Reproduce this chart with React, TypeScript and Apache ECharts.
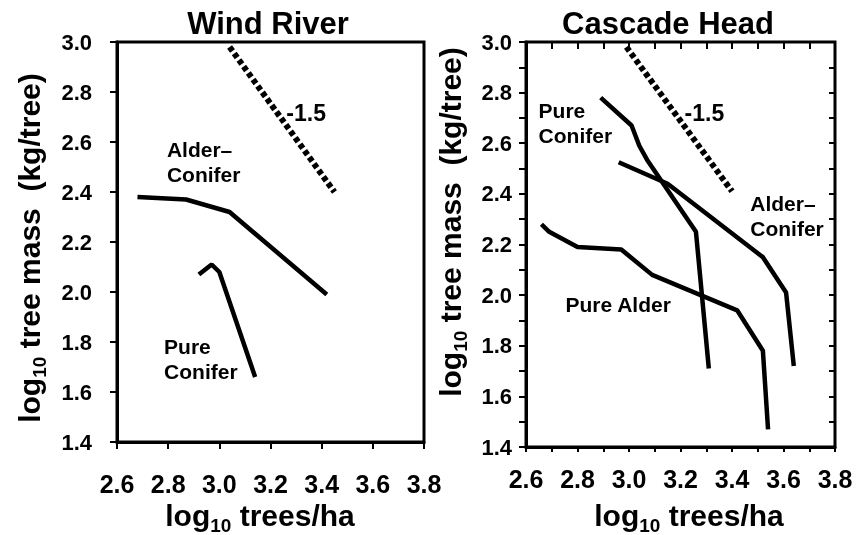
import React, { useEffect, useRef } from "react";
import * as echarts from "echarts";

const FONT = '"Liberation Sans", Arial, Helvetica, sans-serif';

// Axis ranges and tick labels (shared by both panels)
const xTicks = [2.6, 2.8, 3.0, 3.2, 3.4, 3.6, 3.8];
const yTicks = [1.4, 1.6, 1.8, 2.0, 2.2, 2.4, 2.6, 2.8, 3.0];

// Wind River panel
const windAlderConifer = [[2.68, 2.38], [2.87, 2.37], [3.04, 2.32], [3.42, 1.99]];
const windPureConifer = [[2.92, 2.07], [2.97, 2.11], [3.0, 2.08], [3.14, 1.66]];
const windSlope = [[3.04, 2.98], [3.45, 2.4]];
const windLabels = [
  { name: "Alder–\nConifer", value: [2.795, 2.52] },
  { name: "Pure\nConifer", value: [2.784, 1.733] },
  { name: "-1.5", value: [3.262, 2.716] },
];

// Cascade Head panel
const cascPureConifer = [[2.89, 2.78], [3.01, 2.67], [3.04, 2.59], [3.07, 2.535], [3.26, 2.25], [3.31, 1.71]];
const cascAlderConifer = [[2.96, 2.525], [3.15, 2.44], [3.52, 2.15], [3.61, 2.01], [3.64, 1.72]];
const cascPureAlder = [[2.66, 2.28], [2.69, 2.25], [2.8, 2.19], [2.97, 2.18], [3.09, 2.08], [3.42, 1.94], [3.52, 1.78], [3.54, 1.47]];
const cascSlope = [[2.99, 2.98], [3.4, 2.41]];
const cascLabels = [
  { name: "Pure\nConifer", value: [2.649, 2.679] },
  { name: "Alder–\nConifer", value: [3.471, 2.313] },
  { name: "Pure Alder", value: [2.753, 1.961] },
  { name: "-1.5", value: [3.216, 2.72] },
];

const titles = ["Wind River", "Cascade Head"];

export default function App() {
  const ref = useRef<HTMLDivElement>(null);

  useEffect(() => {
    if (!ref.current) return;
    const chart = echarts.init(ref.current, undefined, { renderer: "svg" });

    const fmt = (v: number) => v.toFixed(1);
    const tickLabel = (size: number, margin: number) => ({
      show: true,
      margin,
      fontSize: size,
      fontWeight: "bold",
      fontFamily: FONT,
      color: "#000",
      formatter: fmt,
    });
    const xRange = () => ({
      type: "value",
      min: xTicks[0],
      max: xTicks[xTicks.length - 1],
      interval: 0.2,
      splitLine: { show: false },
    });
    const yRange = () => ({
      type: "value",
      min: yTicks[0],
      max: yTicks[yTicks.length - 1],
      interval: 0.2,
      splitLine: { show: false },
    });
    const axLine = () => ({ show: true, onZero: false, lineStyle: { color: "#000", width: 3 } });
    const tick = (length: number, inside = false) => ({ show: true, inside, length, lineStyle: { color: "#000", width: 2 } });
    const minor = (length: number) => ({ show: true, splitNumber: 2, length, lineStyle: { color: "#000", width: 2 } });

    const lineSeries = (xi: number, yi: number, data: number[][], dashed = false) => ({
      type: "line",
      xAxisIndex: xi,
      yAxisIndex: yi,
      data,
      symbol: "none",
      lineStyle: dashed
        ? { color: "#000", width: 6, type: [5, 3] }
        : { color: "#000", width: 4.5 },
    });
    const labelSeries = (xi: number, yi: number, data: any[]) => ({
      type: "scatter",
      xAxisIndex: xi,
      yAxisIndex: yi,
      symbolSize: 0,
      itemStyle: { color: "#000", opacity: 1 },
      label: {
        show: true,
        position: "right",
        distance: 0,
        formatter: (p: any) => p.name,
        fontSize: 21,
        fontWeight: "bold",
        fontFamily: FONT,
        color: "#000",
        opacity: 1,
        lineHeight: 25,
      },
      data: data.map((d) => (d.name === "-1.5" ? { ...d, label: { fontSize: 23 } } : d)),
    });

    const richTitle = (main: string) => ({
      text: `{a|log}{b|10}{a|${main}}`,
      rich: {
        a: { fontSize: 30, fontWeight: "bold", fontFamily: FONT, fill: "#000", lineHeight: 40, verticalAlign: "middle" },
        b: { fontSize: 19, fontWeight: "bold", fontFamily: FONT, fill: "#000", lineHeight: 19, verticalAlign: "bottom" },
      },
      align: "center",
      verticalAlign: "middle",
    });
    const titleStyle = (text: string) => ({
      text,
      fontSize: 31,
      fontWeight: "bold",
      fontFamily: FONT,
      fill: "#000",
      align: "center",
      verticalAlign: "middle",
    });

    const option: any = {
      animation: false,
      grid: [
        { left: 117, top: 42, width: 307, height: 400, show: true, borderColor: "#000", borderWidth: 3 },
        { left: 526, top: 42, width: 309, height: 405, show: true, borderColor: "#000", borderWidth: 3 },
      ],
      xAxis: [
        { ...xRange(), gridIndex: 0, axisLine: axLine(), axisTick: tick(7), axisLabel: tickLabel(25, 29) },
        { ...xRange(), gridIndex: 1, axisLine: axLine(), axisTick: tick(5), minorTick: minor(5), axisLabel: tickLabel(25, 19) },
        { ...xRange(), gridIndex: 1, axisLine: { show: false }, axisTick: tick(7, true), minorTick: minor(7), axisLabel: { show: false } },
      ],
      yAxis: [
        { ...yRange(), gridIndex: 0, axisLine: axLine(), axisTick: tick(7), axisLabel: tickLabel(22, 25) },
        { ...yRange(), gridIndex: 1, axisLine: axLine(), axisTick: tick(7), minorTick: minor(7), axisLabel: tickLabel(22, 14) },
        { ...yRange(), gridIndex: 1, axisLine: { show: false }, axisTick: tick(6, true), minorTick: minor(6), axisLabel: { show: false } },
      ],
      graphic: [
        { type: "text", x: 268, y: 23, style: titleStyle(titles[0]) },
        { type: "text", x: 668, y: 23, style: titleStyle(titles[1]) },
        { type: "text", x: 29, y: 248, rotation: Math.PI / 2, style: richTitle(" tree mass  (kg/tree)") },
        { type: "text", x: 450, y: 222, rotation: Math.PI / 2, style: richTitle(" tree mass  (kg/tree)") },
        { type: "text", x: 260, y: 515, style: richTitle(" trees/ha") },
        { type: "text", x: 689, y: 515, style: richTitle(" trees/ha") },
      ],
      series: [
        lineSeries(0, 0, windAlderConifer),
        lineSeries(0, 0, windPureConifer),
        lineSeries(0, 0, windSlope, true),
        labelSeries(0, 0, windLabels),
        lineSeries(1, 1, cascPureConifer),
        lineSeries(1, 1, cascAlderConifer),
        lineSeries(1, 1, cascPureAlder),
        lineSeries(1, 1, cascSlope, true),
        labelSeries(1, 1, cascLabels),
      ],
    };

    chart.setOption(option);
    return () => chart.dispose();
  }, []);

  return <div ref={ref} style={{ position: "fixed", left: 0, top: 0, width: 860, height: 535 }} />;
}
